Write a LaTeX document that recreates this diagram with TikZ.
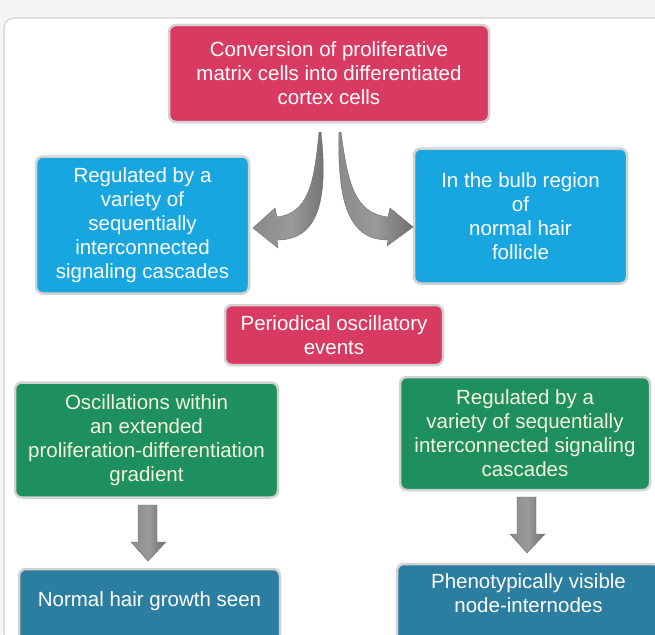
\documentclass[tikz,border=0pt]{standalone}
\usepackage{fontspec}
\setmainfont{Liberation Sans}
\definecolor{pinkc}{HTML}{D93A62}
\definecolor{bluec}{HTML}{17A6DF}
\definecolor{greenc}{HTML}{1E8F5E}
\definecolor{tealc}{HTML}{2C7EA0}
\definecolor{greentext}{HTML}{F4F4DC}
\definecolor{arrdark}{HTML}{6E6E6E}
\definecolor{arrmid}{HTML}{9A9A9A}
\definecolor{arrlight}{HTML}{8A8A8A}
\begin{document}
\begin{tikzpicture}[x=1pt,y=-1pt,
  box/.style={rounded corners=7pt, draw=gray!35, line width=2.5pt, text=white,
    align=center, inner sep=0pt, font=\fontsize{20.5}{24}\selectfont},
  arrowfill/.style={draw=arrdark, line width=0.4pt, shading=axis, left color=arrlight, right color=arrdark, middle color=arrmid}]
\useasboundingbox (0,0) rectangle (655,634);
\fill[gray!8] (0,0) rectangle (655,634);
\draw[fill=white, draw=gray!30, line width=1.5pt, rounded corners=10pt] (4,18) rectangle (680,660);

\node[box, fill=pinkc, minimum width=320pt, minimum height=97pt] (top) at (329,73.5)
  {Conversion of proliferative\\matrix cells into differentiated\\cortex cells};
\node[box, fill=bluec, minimum width=213pt, minimum height=137pt] (lb) at (142.5,225)
  {Regulated by a\\variety of\\sequentially\\interconnected\\signaling cascades};
\node[box, fill=bluec, minimum width=213pt, minimum height=135pt] (rb) at (520.5,216)
  {In the bulb region\\of\\normal hair\\follicle};
\node[box, fill=pinkc, minimum width=218pt, minimum height=60pt] (mid) at (334,335)
  {Periodical oscillatory\\events};
\node[box, fill=greenc, text=greentext, minimum width=263pt, minimum height=115pt] (gl) at (146.5,440)
  {Oscillations within\\an extended\\proliferation-differentiation\\gradient};
\node[box, fill=greenc, text=greentext, minimum width=250pt, minimum height=113pt] (gr) at (525,433.5)
  {Regulated by a\\variety of sequentially\\interconnected signaling\\cascades};
\node[box, fill=tealc, minimum width=261pt, minimum height=92pt] (bl) at (149.5,615)
  {Normal hair growth seen\\ \strut};
\node[box, fill=tealc, minimum width=263pt, minimum height=90pt] (br) at (528.5,609)
  {Phenotypically visible\\node-internodes\\ \strut};

% curved arrows from the top box
\path[arrowfill] (319,132) .. controls (314,185) and (308,213) .. (277,217) -- (275,208) -- (253,228)
  -- (278,248) -- (277,240) .. controls (316,240) and (329,205) .. (321,132) -- cycle;
\path[arrowfill] (341,132) .. controls (348,185) and (355,213) .. (388,217) -- (390,208) -- (413,227)
  -- (387,246) -- (388,240) .. controls (350,240) and (337,205) .. (339,132) -- cycle;

% straight down arrows
\path[arrowfill] (138,505) -- (157,505) -- (157,542) -- (166,542) -- (148,561) -- (131,542) -- (138,542) -- cycle;
\path[arrowfill] (517,497) -- (536,497) -- (536,534) -- (545,534) -- (527,553) -- (510,534) -- (517,534) -- cycle;
\end{tikzpicture}
\end{document}
